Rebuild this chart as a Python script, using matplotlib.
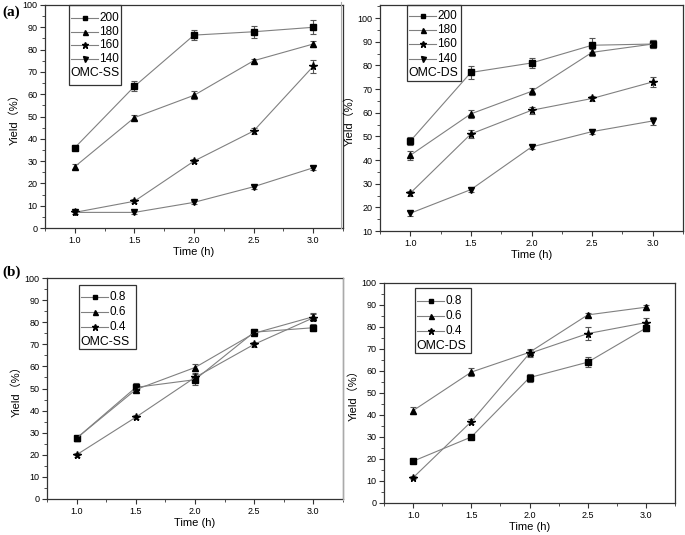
import numpy as np
import matplotlib
matplotlib.use('Agg')
import matplotlib.pyplot as plt
from matplotlib.lines import Line2D
from matplotlib.patches import Rectangle
from matplotlib.ticker import MultipleLocator

plt.rcParams['font.family'] = ['Liberation Sans', 'Noto Sans CJK SC']

t = [1.0, 1.5, 2.0, 2.5, 3.0]

# (a) temperature series
ss_temp = {
    '200': [36, 63.5, 86.5, 88, 90],
    '180': [27.5, 49.5, 59.5, 75, 82.5],
    '160': [7, 12, 30, 43.5, 72.5],
    '140': [7, 7, 11.5, 18.5, 27],
}
ss_temp_err = {
    '200': [1, 2.2, 2.2, 2.8, 3.2],
    '180': [1, 1.2, 1.8, 1, 1.5],
    '160': [0.8, 0.8, 1, 1.5, 3],
    '140': [0.8, 0.8, 0.8, 1, 1],
}
ds_temp = {
    '200': [48, 77, 81, 88.5, 89],
    '180': [42, 59.5, 69, 85.5, 89],
    '160': [26, 51, 61, 66, 73],
    '140': [17.5, 27.5, 45.5, 52, 56.5],
}
ds_temp_err = {
    '200': [1.8, 2.8, 2.2, 3, 1.8],
    '180': [1.8, 1.8, 1.5, 1.5, 1.5],
    '160': [1, 1.5, 1.5, 1.2, 2.2],
    '140': [1, 1, 1, 1, 1.5],
}

# (b) ratio series
ss_ratio = {
    '0.8': [27.5, 50.5, 54, 75.5, 77.5],
    '0.6': [27.5, 49.5, 59.5, 75, 82.5],
    '0.4': [20, 37, 55, 70, 82],
}
ss_ratio_err = {
    '0.8': [1, 2, 2.5, 1.5, 1.5],
    '0.6': [1, 1.2, 1.8, 1, 1.5],
    '0.4': [0.8, 1, 2, 1, 1.5],
}
ds_ratio = {
    '0.8': [19, 30, 57, 64, 79.5],
    '0.6': [42, 59.5, 68.5, 85.5, 89],
    '0.4': [11.5, 37, 68, 77, 82],
}
ds_ratio_err = {
    '0.8': [1, 1, 1.8, 2.2, 1.5],
    '0.6': [1.5, 1.8, 1.5, 1, 1.2],
    '0.4': [0.8, 1, 1.5, 2.8, 2.2],
}

markers = ['s', '^', '*', 'v']
msizes = {'s': 3.8, '^': 4.2, '*': 5.5, 'v': 4.2}
leg_msizes = {'s': 3.0, '^': 3.6, '*': 4.5, 'v': 3.6}
line_c = '#808080'

fig = plt.figure(figsize=(6.85, 5.35), dpi=100)
W, H = 685, 535


def fx(px):
    return px / W


def fy(py):
    return 1 - py / H


def make_ax(x0, x1, y0, y1):
    return fig.add_axes([fx(x0), fy(y1), (x1 - x0) / W, (y1 - y0) / H])


def draw(ax, data, err, ylim, tag, box, row0, step, tag_y):
    for i, (k, v) in enumerate(data.items()):
        m = markers[i]
        ax.errorbar(t, v, yerr=err[k], color=line_c, lw=0.8, marker=m,
                    ms=msizes[m], mfc='black', mec='black', ecolor='#555555',
                    elinewidth=0.8, capsize=2, capthick=0.8)
    ax.set_xlim(0.75, 3.25)
    ax.set_ylim(*ylim)
    ax.set_xticks(t)
    ax.set_xticklabels(['%.1f' % x for x in t])
    ax.xaxis.set_minor_locator(MultipleLocator(0.25))
    ax.yaxis.set_major_locator(MultipleLocator(10))
    ax.yaxis.set_minor_locator(MultipleLocator(5))
    ax.tick_params(which='both', direction='out', labelsize=6.5,
                   color='#333333', pad=2)
    ax.tick_params(which='major', length=3.5)
    ax.tick_params(which='minor', length=2)
    for s in ax.spines.values():
        s.set_color('#333333')
        s.set_linewidth(0.9)
    ax.set_xlabel('Time (h)', fontsize=8, labelpad=2)
    ax.set_ylabel('Yield（%）', fontsize=8, labelpad=2)

    # legend box: one row per series, then the sample tag
    x0, y0, x1, y1 = box
    for i, k in enumerate(data.keys()):
        m = markers[i]
        yy = fy(row0 + i * step)
        fig.add_artist(Line2D([fx(x0 + 2), fx(x0 + 29)], [yy, yy],
                              color=line_c, lw=0.8))
        fig.add_artist(Line2D([fx(x0 + 15.5)], [yy], marker=m,
                              ms=leg_msizes[m], mfc='black', mec='black',
                              ls='none'))
        fig.text(fx(x0 + 30.5), yy, k, fontsize=8.5, va='center', ha='left')
    fig.text(fx(x0 + 1.5), fy(tag_y), tag, fontsize=8.8, va='center',
             ha='left')
    fig.add_artist(Rectangle((fx(x0), fy(y1)), (x1 - x0) / W, (y1 - y0) / H,
                             transform=fig.transFigure, fill=False,
                             edgecolor='#333333', lw=0.9))


ax1 = make_ax(45, 343, 5, 228)
draw(ax1, ss_temp, ss_temp_err, (0, 100), 'OMC-SS', (69, 5, 121, 85),
     18, 13.7, 73)

ax2 = make_ax(380, 683, 5, 231)
draw(ax2, ds_temp, ds_temp_err, (10, 105.5), 'OMC-DS', (407, 5, 461, 81),
     16, 14.2, 73)

ax3 = make_ax(47, 343, 278, 499)
draw(ax3, ss_ratio, ss_ratio_err, (0, 100), 'OMC-SS', (79, 285, 136, 349),
     297, 15, 342)

ax4 = make_ax(384, 675, 283, 503)
draw(ax4, ds_ratio, ds_ratio_err, (0, 100), 'OMC-DS', (415, 288, 471, 353),
     301, 15, 346)

fig.text(fx(2), fy(12), '(a)', fontsize=11, fontweight='bold',
         family='Liberation Serif', va='center')
fig.text(fx(2), fy(272), '(b)', fontsize=11, fontweight='bold',
         family='Liberation Serif', va='center')

# faint frame edges from the original layout
fig.add_artist(Line2D([fx(341), fx(341)], [fy(2), fy(228)],
                      color='#aaaaaa', lw=0.8))
fig.add_artist(Line2D([fx(343), fx(343)], [fy(278), fy(500)],
                      color='#aaaaaa', lw=0.8))

fig.savefig('out.png', dpi=100)
